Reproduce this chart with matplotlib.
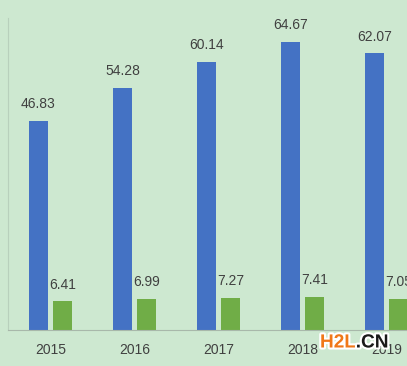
import matplotlib
matplotlib.use("Agg")
import matplotlib.pyplot as plt
import matplotlib.patheffects as pe
import numpy as np

years = ["2015", "2016", "2017", "2018", "2019"]
blue_vals = [46.83, 54.28, 60.14, 64.67, 62.07]
green_vals = [6.41, 6.99, 7.27, 7.41, 7.05]

bg = "#cde8d0"
blue = "#4472c4"
green = "#70ad47"
txt = "#404040"

W, H = 407, 366
fig = plt.figure(figsize=(W / 100, H / 100), dpi=100)
fig.patch.set_facecolor(bg)
left_px, bottom_px, top_px = 8, 330, 18
ax = fig.add_axes([left_px / W, 1 - bottom_px / H, (W - left_px) / W, (bottom_px - top_px) / H])
ax.set_facecolor(bg)

x = np.arange(len(years))
off = 0.143
bw = 0.226
ax.bar(x - off, blue_vals, width=bw, color=blue)
ax.bar(x + off, green_vals, width=bw, color=green)

for xi, v in zip(x, blue_vals):
    ax.text(xi - off, v + 2.2, f"{v:.2f}", ha="center", va="bottom", fontsize=10,
            color=txt, family="Liberation Sans")
for xi, v in zip(x, green_vals):
    ax.text(xi + off, v + 2.2, f"{v:.2f}", ha="center", va="bottom", fontsize=10,
            color=txt, family="Liberation Sans")

ax.set_xlim(-0.506, -0.506 + (W - left_px) / 84)
ax.set_ylim(0, 70)
ax.set_xticks(x)
ax.set_xticklabels(years, fontsize=10, color=txt, family="Liberation Sans")
ax.tick_params(axis="x", length=0, pad=9)
ax.set_yticks([])
for s in ["top", "right"]:
    ax.spines[s].set_visible(False)
ax.spines["left"].set_color("#b8d0bc")
ax.spines["left"].set_linewidth(0.8)
ax.spines["bottom"].set_color("#a8b8aa")
ax.spines["bottom"].set_linewidth(0.8)

# watermark
wm_effect = [pe.withStroke(linewidth=3, foreground="white")]
t1 = fig.text(320 / W, 1 - 343 / H, "H2L", fontsize=13.7, fontweight="bold", color="#f07818",
              family="Liberation Sans", va="center", ha="left", path_effects=wm_effect)
fig.canvas.draw()
bb = t1.get_window_extent()
fig.text(bb.x1 / W, 1 - 343 / H, ".CN", fontsize=13.7, fontweight="bold", color="#1a1a1a",
         family="Liberation Sans", va="center", ha="left", path_effects=wm_effect)

fig.savefig("out.png", dpi=100, facecolor=bg)
